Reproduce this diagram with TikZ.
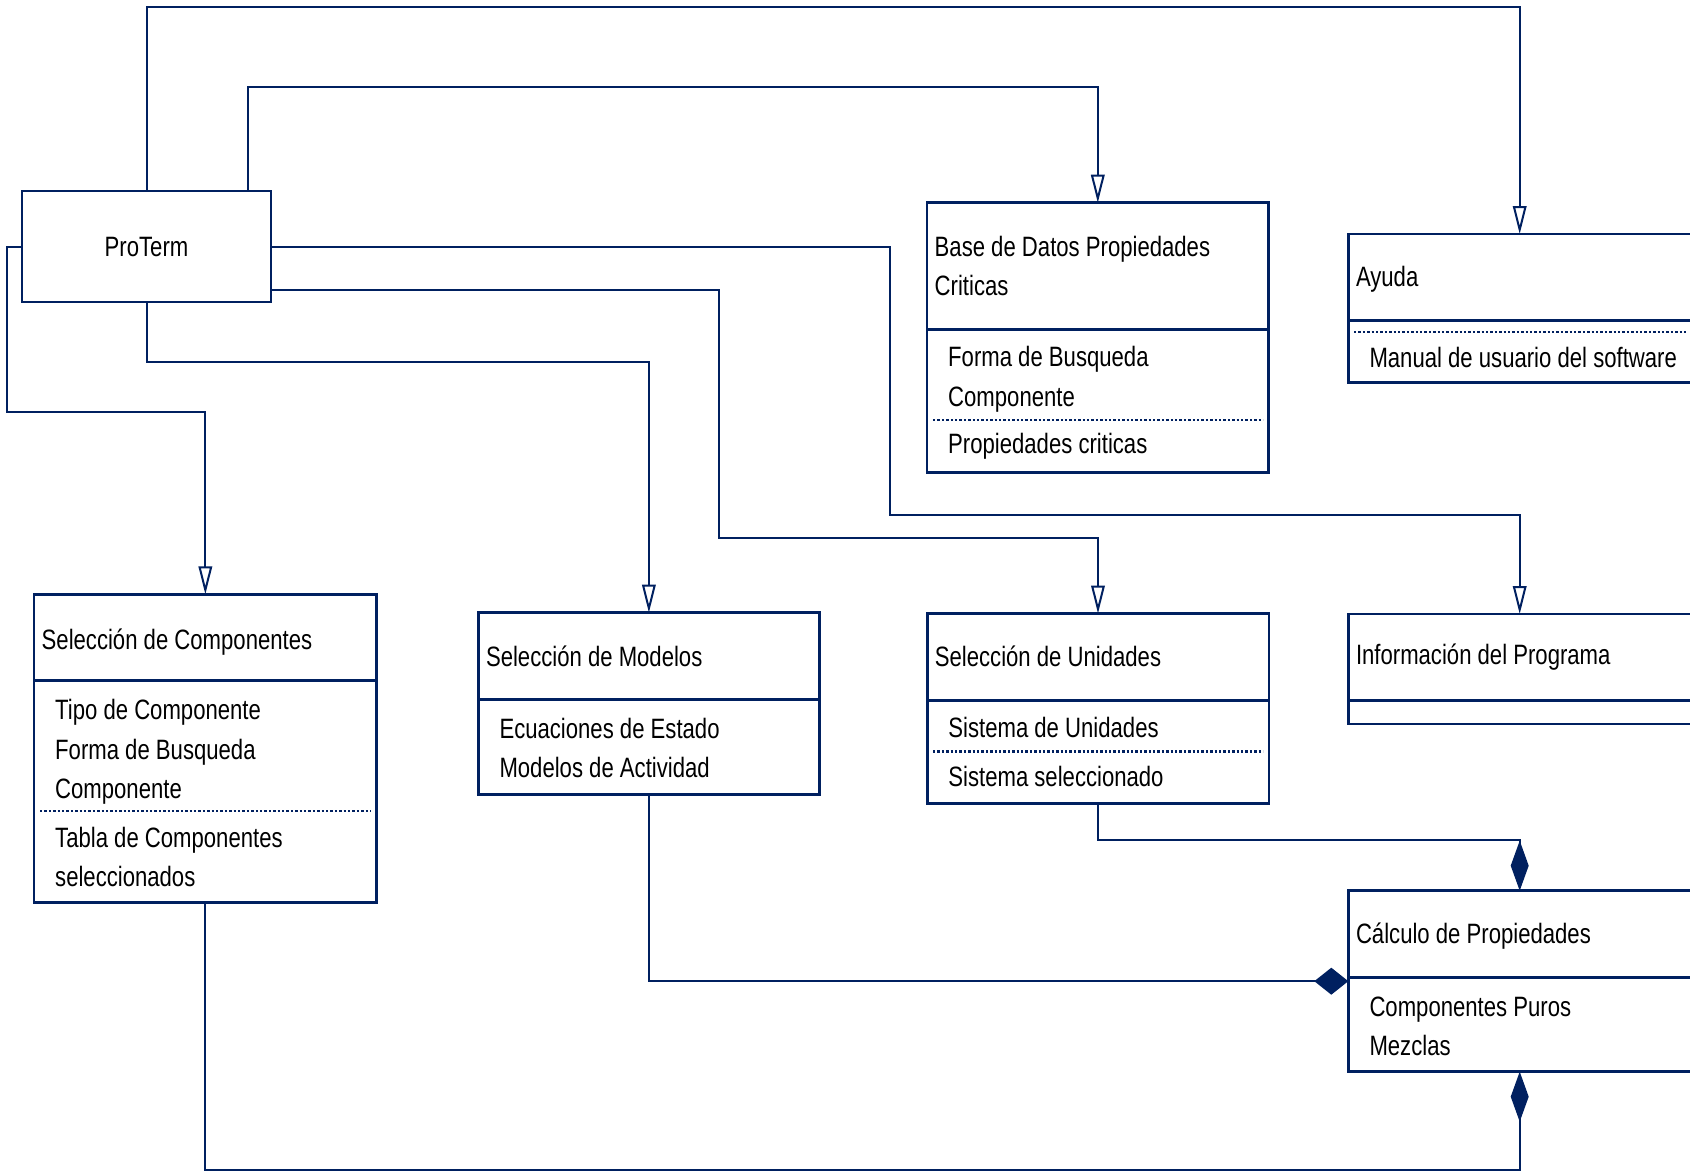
\documentclass[tikz,border=0pt]{standalone}
\usepackage{fontspec}
\setmainfont{Liberation Sans}[FakeStretch=0.79]
\usetikzlibrary{arrows.meta}
\definecolor{umlblue}{RGB}{0,32,96}
\begin{document}
\begin{tikzpicture}[x=1pt,y=-1pt,
  box/.style={draw=umlblue,line width=2.6pt,fill=white,rectangle,inner sep=0pt,outer sep=0pt,anchor=north west},
  sep/.style={draw=umlblue,line width=3pt},
  dots/.style={draw=umlblue,line width=2.4pt,dash pattern=on 2.4pt off 2pt},
  txt/.style={anchor=base west,inner sep=0pt,font=\fontsize{28}{34}\selectfont,text=black},
  link/.style={draw=umlblue,line width=2pt},
  gen/.style={link,-{Triangle[length=28pt,width=13.5pt,fill=white]}},
  compv/.style={link,-{Diamond[length=50pt,width=18pt]}},
  comph/.style={link,-{Diamond[length=34pt,width=27pt]}},
]
\useasboundingbox (0,0) rectangle (1690,1172);

% class boxes
\node[box,minimum width=249pt,minimum height=111pt] (proterm) at (22,191) {};
\node[box,minimum width=341.6pt,minimum height=269.6pt] (base) at (927,202.7) {};
\node[box,minimum width=342.8pt,minimum height=148.7pt] (ayuda) at (1348.3,234) {};
\node[box,minimum width=342.7pt,minimum height=308.4pt] (comp) at (34,594.3) {};
\node[box,minimum width=341.2pt,minimum height=182pt] (model) at (478.3,612.7) {};
\node[box,minimum width=341.6pt,minimum height=189.7pt] (unid) at (927.2,613.5) {};
\node[box,minimum width=342.8pt,minimum height=110pt] (info) at (1348.3,614) {};
\node[box,minimum width=342.8pt,minimum height=181pt] (calc) at (1348.3,890.7) {};

% compartment separators
\draw[sep] (927,329) -- (1268.6,329);
\draw[dots] (933,420) -- (1263,420);
\draw[sep] (1348.3,320) -- (1691,320);
\draw[dots] (1354,331.7) -- (1688,331.7);
\draw[sep] (34,680) -- (376.7,680);
\draw[dots] (40,811) -- (371,811);
\draw[sep] (478.3,699.3) -- (819.5,699.3);
\draw[sep] (927.2,700) -- (1268.8,700);
\draw[dots] (933,751.4) -- (1263,751.4);
\draw[sep] (1348.3,700) -- (1691,700);
\draw[sep] (1348.3,977.3) -- (1691,977.3);

% texts
\node[anchor=base,inner sep=0pt,font=\fontsize{28}{34}\selectfont] (proterm-name) at (146.5,256) {ProTerm};

\node[txt] (base-h1) at (934.5,256) {Base de Datos Propiedades};
\node[txt] (base-h2) at (934.5,295) {Criticas};
\node[txt] (base-a1) at (948,366.7) {Forma de Busqueda};
\node[txt] (base-a2) at (948,406.7) {Componente};
\node[txt] (base-o1) at (948,453.3) {Propiedades criticas};

\node[txt] (ayuda-h) at (1355.8,286.7) {Ayuda};
\node[txt] (ayuda-o1) at (1369.3,367.7) {Manual de usuario del software};

\node[txt] (comp-h) at (41.5,649.3) {Selección de Componentes};
\node[txt] (comp-a1) at (55,719.3) {Tipo de Componente};
\node[txt] (comp-a2) at (55,759.3) {Forma de Busqueda};
\node[txt] (comp-a3) at (55,798.3) {Componente};
\node[txt] (comp-o1) at (55,847.3) {Tabla de Componentes};
\node[txt] (comp-o2) at (55,886) {seleccionados};

\node[txt] (model-h) at (485.8,666) {Selección de Modelos};
\node[txt] (model-a1) at (499.3,738.3) {Ecuaciones de Estado};
\node[txt] (model-a2) at (499.3,777.3) {Modelos de Actividad};

\node[txt] (unid-h) at (934.7,666.8) {Selección de Unidades};
\node[txt] (unid-a1) at (948.2,737.9) {Sistema de Unidades};
\node[txt] (unid-o1) at (948.2,786) {Sistema seleccionado};

\node[txt] (info-h) at (1355.8,664) {Información del Programa};

\node[txt] (calc-h) at (1355.8,943.3) {Cálculo de Propiedades};
\node[txt] (calc-a1) at (1369.3,1016.7) {Componentes Puros};
\node[txt] (calc-a2) at (1369.3,1055) {Mezclas};

% routing points
\coordinate (k1) at (1519.7,6.7);
\coordinate (p2) at (248.4,191);
\coordinate (k2) at (1097.8,87.3);
\coordinate (k3) at (890.3,515.2);
\coordinate (p4) at (271,290);
\coordinate (k4) at (718.9,537.8);
\coordinate (k5) at (648.9,361.7);
\coordinate (k6) at (6.5,411.7);
\coordinate (k7) at (1098,840.4);
\coordinate (k9) at (205.35,1170);

% generalisations
\draw[gen] (proterm.north) |- (k1) -- (ayuda.north);
\draw[gen] (p2) |- (k2) -- (base.north);
\draw[gen] (proterm.east) -| (k3) -| (info.north);
\draw[gen] (p4) -| (k4) -| (unid.north);
\draw[gen] (proterm.south) |- (k5) -- (model.north);
\draw[gen] (proterm.west) -| (k6) -| (comp.north);

% compositions
\draw[compv] (unid.south) |- (k7) -| (calc.north);
\draw[comph] (model.south) |- (calc.west);
\draw[compv] (comp.south) |- (k9) -| (calc.south);
\end{tikzpicture}
\end{document}
